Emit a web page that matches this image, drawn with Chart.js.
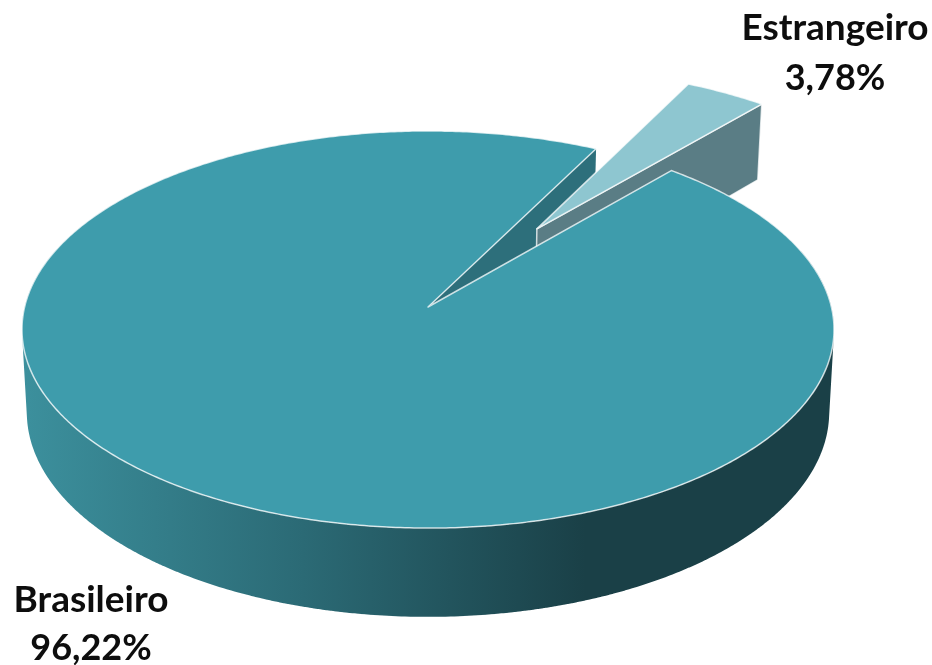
<!DOCTYPE html>
<html>
<head>
<meta charset="utf-8">
<style>
html, body { margin: 0; padding: 0; background: #fff; overflow: hidden; }
#pie { display: block; }
</style>
</head>
<body>
<canvas id="pie" width="932" height="665"></canvas>
<script src="https://cdn.jsdelivr.net/npm/chart.js@4/dist/chart.umd.min.js"></script>
<script>
// Data
const categories = ['Estrangeiro', 'Brasileiro'];
const shares = [3.78, 96.22];
const shareLabels = ['3,78%', '96,22%'];
const topColors = ['#8ec6d0', '#3e9cac'];

// Look of the 3D pie, the flat circle is projected onto these planes
const topPlane = { cx: 428, cy: 307, rx: 403.4, ry: 196, k: 0.1134 };
const bottomPlane = { cx: 428, cy: 389, rx: 398.6, ry: 202, k: 0.1134 };
const explode = 0.504;
const edgeColor = 'rgba(255, 255, 255, 0.75)';

function project(plane, u, v) {
    const w = 1 - plane.k * v;
    return { x: plane.cx + plane.rx * u / w, y: plane.cy + plane.ry * v / w };
}

// Chart.js angles start at 3 o'clock, so cos/sin give the flat circle directly
function rim(plane, angle, dx, dy) {
    return project(plane, Math.cos(angle) + dx, Math.sin(angle) + dy);
}

function polygon(ctx, pts) {
    pts.forEach((p, i) => (i ? ctx.lineTo(p.x, p.y) : ctx.moveTo(p.x, p.y)));
    ctx.closePath();
}

// quads of the wall must all wind the same way or they cancel at the tangents
function sameWinding(pts) {
    let area = 0;
    pts.forEach((p, i) => {
        const q = pts[(i + 1) % pts.length];
        area += p.x * q.y - q.x * p.y;
    });
    return area < 0 ? pts.slice().reverse() : pts;
}

function sliceTop(plane, arc, dx, dy) {
    const pts = [project(plane, dx, dy)];
    const steps = Math.ceil((arc.endAngle - arc.startAngle) / 0.01);
    for (let i = 0; i <= steps; i++) {
        pts.push(rim(plane, arc.startAngle + (arc.endAngle - arc.startAngle) * i / steps, dx, dy));
    }
    return pts;
}

const pie3d = {
    id: 'pie3d',
    beforeDatasetDraw(chart, args) {
        const ctx = chart.ctx;
        const small = args.meta.data[0];
        const big = args.meta.data[1];
        const mid = (small.startAngle + small.endAngle) / 2;
        const dx = Math.cos(mid) * explode;
        const dy = Math.sin(mid) * explode;
        ctx.lineJoin = 'round';

        // outer wall of the big slice
        const grad = ctx.createLinearGradient(22, 0, 585, 0);
        grad.addColorStop(0, '#3c909d');
        grad.addColorStop(0.5, '#2b6a75');
        grad.addColorStop(1, '#1a4047');
        ctx.beginPath();
        for (let a = -0.3; a < Math.PI + 0.3; a += 0.01) {
            polygon(ctx, sameWinding([rim(topPlane, a, 0, 0), rim(topPlane, a + 0.012, 0, 0),
                rim(bottomPlane, a + 0.012, 0, 0), rim(bottomPlane, a, 0, 0)]));
        }
        ctx.fillStyle = grad;
        ctx.fill();

        // cut face of the big slice seen through the gap
        ctx.beginPath();
        polygon(ctx, [project(topPlane, 0, 0), rim(topPlane, big.endAngle, 0, 0),
            rim(bottomPlane, big.endAngle, 0, 0), project(bottomPlane, 0, 0)]);
        ctx.fillStyle = '#2d6f7b';
        ctx.fill();

        // exploded slice: side face then top
        ctx.beginPath();
        polygon(ctx, [project(topPlane, dx, dy), rim(topPlane, small.endAngle, dx, dy),
            rim(bottomPlane, small.endAngle, dx, dy), project(bottomPlane, dx, dy)]);
        ctx.fillStyle = '#5a7d85';
        ctx.fill();
        ctx.strokeStyle = edgeColor;
        ctx.lineWidth = 1.5;
        ctx.stroke();

        ctx.beginPath();
        polygon(ctx, sliceTop(topPlane, small, dx, dy));
        ctx.fillStyle = topColors[0];
        ctx.fill();
        ctx.stroke();

        // top of the big slice
        ctx.beginPath();
        polygon(ctx, sliceTop(topPlane, big, 0, 0));
        ctx.fillStyle = topColors[1];
        ctx.fill();
        ctx.stroke();

        return false; // flat arcs are replaced by the drawing above
    },
    afterDraw(chart) {
        const ctx = chart.ctx;
        ctx.fillStyle = '#0d0d0d';
        ctx.textAlign = 'center';
        ctx.textBaseline = 'alphabetic';
        ctx.font = 'bold 37px Lato';
        ctx.fillText(categories[0], 835, 40);
        ctx.fillText(categories[1], 91, 612);
        ctx.font = 'bold 36px Lato';
        ctx.fillText(shareLabels[0], 835, 90);
        ctx.fillText(shareLabels[1], 91, 660);
    }
};

new Chart(document.getElementById('pie'), {
    type: 'pie',
    data: {
        labels: categories,
        datasets: [{ data: shares, backgroundColor: topColors }]
    },
    options: {
        responsive: false,
        animation: false,
        rotation: 27.3,
        plugins: {
            legend: { display: false },
            tooltip: { enabled: false }
        }
    },
    plugins: [pie3d]
});
</script>
</body>
</html>
